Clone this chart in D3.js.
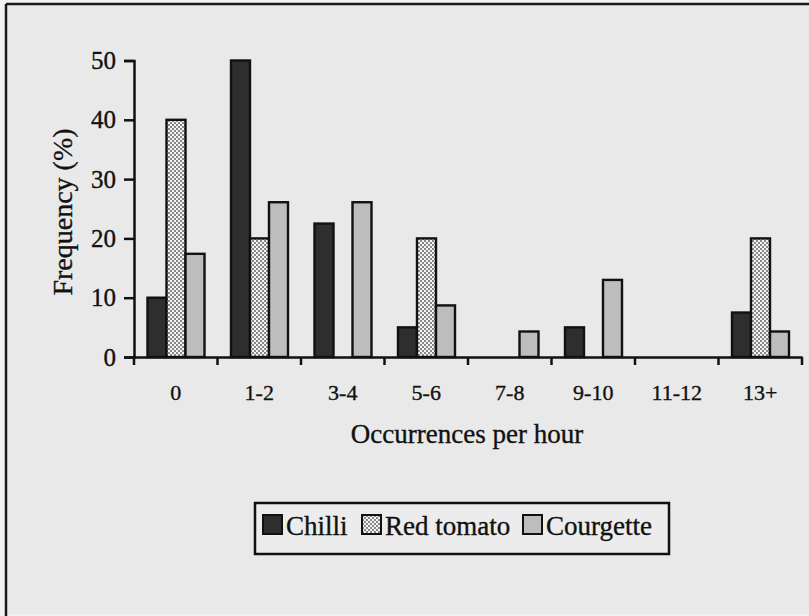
<!DOCTYPE html>
<html>
<head>
<meta charset="utf-8">
<script src="https://cdn.jsdelivr.net/npm/d3@7"></script>
<style>
  body { margin: 0; background: #f2f2f2; }
  svg { display: block; }
  svg text { font-family: "Liberation Serif", "Times New Roman", Times, serif; stroke: #111; stroke-width: 0.35px; }
</style>
</head>
<body>
<div></div>
<script>
var width = 809;
var height = 616;

// data
var categories = ["0", "1-2", "3-4", "5-6", "7-8", "9-10", "11-12", "13+"];
var seriesNames = ["Chilli", "Red tomato", "Courgette"];
var chilli = [10, 50, 22.5, 5, 0, 5, 0, 7.5];
var redTomato = [40, 20, 0, 20, 0, 0, 0, 20];
var courgette = [17.4, 26.1, 26.1, 8.7, 4.3, 13, 0, 4.3];
var yTicks = [0, 10, 20, 30, 40, 50];

var seriesValues = [chilli, redTomato, courgette];

var svg = d3.select("div")
	.append("svg")
	.attr("width", width)
	.attr("height", height);

var defs = svg.append("defs");
var dots = defs.append("pattern")
	.attr("id", "dots")
	.attr("patternUnits", "userSpaceOnUse")
	.attr("width", 4)
	.attr("height", 4);
dots.append("rect").attr("width", 4).attr("height", 4).attr("fill", "#f4f4f4");
dots.append("circle").attr("cx", 1).attr("cy", 1).attr("r", 0.9).attr("fill", "#555");
dots.append("circle").attr("cx", 3).attr("cy", 3).attr("r", 0.9).attr("fill", "#555");

var fills = ["#2e2e2e", "url(#dots)", "#bdbdbd"];

// page background + frame
svg.append("rect")
	.attr("x", 6).attr("y", 4)
	.attr("width", width).attr("height", height - 6)
	.attr("fill", "#e9e9e9");
svg.append("line")
	.attr("x1", 6).attr("y1", 4).attr("x2", width).attr("y2", 4)
	.attr("stroke", "#1a1a1a").attr("stroke-width", 2.5);
svg.append("line")
	.attr("x1", 6).attr("y1", 4).attr("x2", 6).attr("y2", height)
	.attr("stroke", "#1a1a1a").attr("stroke-width", 2.5);

var x0 = d3.scaleBand()
	.domain(categories)
	.range([134, 802]);

var x1 = d3.scaleBand()
	.domain(seriesNames)
	.range([13.5, 70.5]);

var y = d3.scaleLinear()
	.domain([0, 50])
	.range([357, 60.5]);

var bars = [];
categories.forEach((c, i) => {
	seriesNames.forEach((s, j) => {
		if (seriesValues[j][i] > 0) bars.push({ cat: c, series: s, idx: j, value: seriesValues[j][i] });
	});
});

svg.append("g")
	.selectAll("rect")
	.data(bars)
	.enter()
	.append("rect")
	.attr("x", d => x0(d.cat) + x1(d.series))
	.attr("y", d => y(d.value))
	.attr("width", x1.bandwidth())
	.attr("height", d => y(0) - y(d.value))
	.attr("fill", d => fills[d.idx])
	.attr("stroke", "#111")
	.attr("stroke-width", 2.4);

// y axis
var yAxis = svg.append("g")
	.attr("transform", "translate(134,0)")
	.call(d3.axisLeft(y).tickValues(yTicks).tickSize(10).tickPadding(8).tickFormat(d3.format("d")));
yAxis.attr("font-family", null);
yAxis.select(".domain").attr("stroke", "#111").attr("stroke-width", 2.5);
yAxis.selectAll(".tick line").attr("stroke", "#111").attr("stroke-width", 2.5);
yAxis.selectAll("text")
	.attr("font-size", 25)
	.attr("fill", "#111");

// x axis: ticks on category boundaries
var xAxis = svg.append("g")
	.attr("transform", "translate(0,357)")
	.call(d3.axisBottom(x0).tickSize(0).tickPadding(27));
xAxis.attr("font-family", null);
xAxis.select(".domain").attr("stroke", "#111").attr("stroke-width", 2.5);
xAxis.selectAll("text")
	.attr("font-size", 22)
	.attr("fill", "#111");

var bounds = categories.map(c => x0(c)).concat([x0.range()[1]]);
svg.append("g")
	.selectAll("line")
	.data(bounds)
	.enter()
	.append("line")
	.attr("x1", d => d).attr("x2", d => d)
	.attr("y1", 357).attr("y2", 365)
	.attr("stroke", "#111")
	.attr("stroke-width", 2.5);

// axis titles
svg.append("text")
	.attr("x", 467)
	.attr("y", 443)
	.attr("text-anchor", "middle")
	.attr("font-size", 27)
	.attr("fill", "#111")
	.text("Occurrences per hour");

svg.append("text")
	.attr("transform", "translate(72,212) rotate(-90)")
	.attr("text-anchor", "middle")
	.attr("font-size", 28)
	.attr("fill", "#111")
	.text("Frequency (%)");

// legend
var legend = svg.append("g");
legend.append("rect")
	.attr("x", 255).attr("y", 503)
	.attr("width", 414).attr("height", 51)
	.attr("fill", "#ececec")
	.attr("stroke", "#111")
	.attr("stroke-width", 2.5);

var legendX = [263, 362, 523];
var items = legend.selectAll("g")
	.data(seriesNames)
	.enter()
	.append("g")
	.attr("transform", (d, i) => "translate(" + legendX[i] + ",515)");
items.append("rect")
	.attr("width", 19).attr("height", 19)
	.attr("fill", (d, i) => fills[i])
	.attr("stroke", "#111")
	.attr("stroke-width", 2);
items.append("text")
	.attr("x", 23)
	.attr("y", 20)
	.attr("font-size", 27)
	.attr("fill", "#111")
	.text(d => d);
</script>
</body>
</html>
